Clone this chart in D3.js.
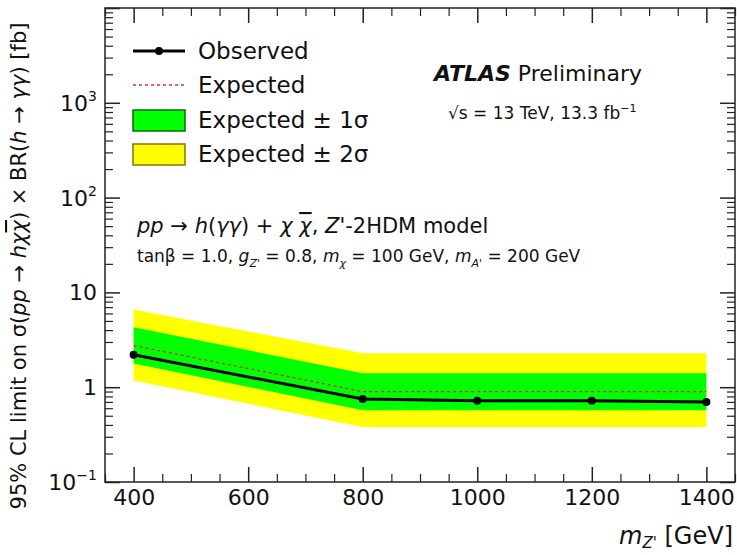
<!DOCTYPE html>
<html>
<head>
<meta charset="utf-8">
<script src="https://cdn.jsdelivr.net/npm/d3@7"></script>
<style>
  html, body { margin: 0; padding: 0; background: #fff; }
  svg { display: block; }
  text { font-family: "DejaVu Sans", Verdana, sans-serif; fill: #111; }
</style>
</head>
<body>
<svg id="chart" width="737" height="555"></svg>
<script>
// Z' mass points [GeV]
const massPoints = [400, 800, 1000, 1200, 1400];
// 95% CL upper limits on sigma x BR [fb]
const observed = [2.2, 0.75, 0.72, 0.72, 0.70];
const expected = [2.75, 0.90, 0.90, 0.90, 0.90];
const expPlus1 = [4.3, 1.40, 1.40, 1.40, 1.40];
const expMinus1 = [1.78, 0.57, 0.57, 0.57, 0.57];
const expPlus2 = [6.6, 2.28, 2.28, 2.28, 2.28];
const expMinus2 = [1.18, 0.38, 0.38, 0.38, 0.38];
// axis tick values
const xTicks = [400, 600, 800, 1000, 1200, 1400];
const yTicks = [0.1, 1, 10, 100, 1000];
const yTickLabels = ["10", "1", "10", "10", "10"];
const yTickExps = ["\u22121", "", "", "2", "3"];

const svg = d3.select("#chart");
const frame = { left: 105, right: 735, top: 8, bottom: 482 };

const x = d3.scaleLinear().domain([350, 1450]).range([frame.left, frame.right]);
const y = d3.scaleLog().domain([0.1, 10000]).range([frame.bottom, frame.top]);

const rows = massPoints.map((m, i) => ({
  m, obs: observed[i], exp: expected[i],
  p1: expPlus1[i], m1: expMinus1[i], p2: expPlus2[i], m2: expMinus2[i]
}));

// uncertainty bands
const band = (lo, hi) => d3.area().x(d => x(d.m)).y0(d => y(d[lo])).y1(d => y(d[hi]));
svg.append("path").datum(rows).attr("d", band("m2", "p2")).attr("fill", "#ffff00");
svg.append("path").datum(rows).attr("d", band("m1", "p1")).attr("fill", "#00ff00");

// expected limit
svg.append("path").datum(rows)
  .attr("d", d3.line().x(d => x(d.m)).y(d => y(d.exp)))
  .attr("fill", "none").attr("stroke", "#d03050").attr("stroke-width", 1.3)
  .attr("stroke-dasharray", "3,3");

// observed limit
svg.append("path").datum(rows)
  .attr("d", d3.line().x(d => x(d.m)).y(d => y(d.obs)))
  .attr("fill", "none").attr("stroke", "#000").attr("stroke-width", 3);
svg.selectAll("circle.obs").data(rows).enter().append("circle")
  .attr("class", "obs")
  .attr("cx", d => x(d.m)).attr("cy", d => y(d.obs)).attr("r", 4).attr("fill", "#000");

// frame
svg.append("rect")
  .attr("x", frame.left).attr("y", frame.top)
  .attr("width", frame.right - frame.left).attr("height", frame.bottom - frame.top)
  .attr("fill", "none").attr("stroke", "#222").attr("stroke-width", 1.5);

// x axis ticks (inward, mirrored on top)
const xMinor = d3.range(350, 1451, 50).filter(v => !xTicks.includes(v));
const bottomAxis = d3.axisBottom(x).tickValues(xTicks).tickSize(-15).tickFormat(d3.format("d"));
const gx = svg.append("g").attr("transform", `translate(0,${frame.bottom})`).call(bottomAxis);
gx.select(".domain").remove();
gx.selectAll(".tick line").attr("stroke", "#222").attr("stroke-width", 1.5);
gx.selectAll(".tick text").attr("y", 7).attr("font-size", 22).attr("fill", "#111")
  .style("font-family", "DejaVu Sans, Verdana, sans-serif");
const gxMinor = svg.append("g").attr("transform", `translate(0,${frame.bottom})`)
  .call(d3.axisBottom(x).tickValues(xMinor).tickSize(-8).tickFormat(""));
gxMinor.select(".domain").remove();
gxMinor.selectAll(".tick line").attr("stroke", "#222").attr("stroke-width", 1.2);

const gxTop = svg.append("g").attr("transform", `translate(0,${frame.top})`)
  .call(d3.axisTop(x).tickValues(xTicks).tickSize(-15).tickFormat(""));
gxTop.select(".domain").remove();
gxTop.selectAll(".tick line").attr("stroke", "#222").attr("stroke-width", 1.5);
const gxTopMinor = svg.append("g").attr("transform", `translate(0,${frame.top})`)
  .call(d3.axisTop(x).tickValues(xMinor).tickSize(-8).tickFormat(""));
gxTopMinor.select(".domain").remove();
gxTopMinor.selectAll(".tick line").attr("stroke", "#222").attr("stroke-width", 1.2);

// y axis ticks (inward, mirrored on right)
const yMinor = [];
[0.1, 1, 10, 100, 1000].forEach(dec => { for (let k = 2; k <= 9; k++) yMinor.push(dec * k); });
function yAxisTicks(axisFn, xpos) {
  const gMaj = svg.append("g").attr("transform", `translate(${xpos},0)`)
    .call(axisFn(y).tickValues(yTicks.concat([10000])).tickSize(-15).tickFormat(""));
  gMaj.select(".domain").remove();
  gMaj.selectAll(".tick line").attr("stroke", "#222").attr("stroke-width", 1.5);
  const gMin = svg.append("g").attr("transform", `translate(${xpos},0)`)
    .call(axisFn(y).tickValues(yMinor).tickSize(-8).tickFormat(""));
  gMin.select(".domain").remove();
  gMin.selectAll(".tick line").attr("stroke", "#222").attr("stroke-width", 1.2);
}
yAxisTicks(d3.axisLeft, frame.left);
yAxisTicks(d3.axisRight, frame.right);

// y tick labels with exponents
yTicks.forEach((v, i) => {
  const t = svg.append("text")
    .attr("x", frame.left - 8).attr("y", y(v) + 8)
    .attr("text-anchor", "end").attr("font-size", 22);
  t.append("tspan").text(yTickLabels[i]);
  if (yTickExps[i]) {
    t.append("tspan").attr("dy", -10).attr("font-size", 14).text(yTickExps[i]);
  }
});

// axis titles
const yTitle = svg.append("text")
  .attr("transform", `translate(26,266) rotate(-90)`)
  .attr("text-anchor", "middle").attr("font-size", 21);
yTitle.append("tspan").text("95% CL limit on \u03c3(");
yTitle.append("tspan").attr("font-style", "italic").text("pp");
yTitle.append("tspan").text(" \u2192 ");
yTitle.append("tspan").attr("font-style", "italic").text("h\u03c7");
yTitle.append("tspan").attr("font-style", "italic").style("text-decoration", "overline").text("\u03c7");
yTitle.append("tspan").text(") \u00d7 BR(");
yTitle.append("tspan").attr("font-style", "italic").text("h");
yTitle.append("tspan").text(" \u2192 ");
yTitle.append("tspan").attr("font-style", "italic").text("\u03b3\u03b3");
yTitle.append("tspan").text(") [fb]");

const xTitle = svg.append("text")
  .attr("x", frame.right - 2).attr("y", 544).attr("text-anchor", "end").attr("font-size", 24);
xTitle.append("tspan").attr("font-style", "italic").text("m");
xTitle.append("tspan").attr("font-style", "italic").attr("font-size", 15).attr("dy", 4).text("Z'");
xTitle.append("tspan").attr("dy", -4).text(" [GeV]");

// legend
const legX0 = 133, legX1 = 185, legText = 198;
const legRows = [51, 85, 120, 154];
svg.append("line").attr("x1", legX0).attr("x2", legX1).attr("y1", legRows[0]).attr("y2", legRows[0])
  .attr("stroke", "#000").attr("stroke-width", 3);
svg.append("circle").attr("cx", (legX0 + legX1) / 2).attr("cy", legRows[0]).attr("r", 4).attr("fill", "#000");
svg.append("line").attr("x1", legX0).attr("x2", legX1).attr("y1", legRows[1]).attr("y2", legRows[1])
  .attr("stroke", "#d03050").attr("stroke-width", 1.3).attr("stroke-dasharray", "3,3");
svg.append("rect").attr("x", legX0).attr("y", legRows[2] - 10).attr("width", legX1 - legX0).attr("height", 21)
  .attr("fill", "#00ff00").attr("stroke", "#0a6a0a").attr("stroke-width", 1.5);
svg.append("rect").attr("x", legX0).attr("y", legRows[3] - 10).attr("width", legX1 - legX0).attr("height", 21)
  .attr("fill", "#ffff00").attr("stroke", "#7a7a10").attr("stroke-width", 1.5);
const legLabels = ["Observed", "Expected", "Expected \u00b1 1\u03c3", "Expected \u00b1 2\u03c3"];
legLabels.forEach((s, i) => {
  svg.append("text").attr("x", legText).attr("y", legRows[i] + 8).attr("font-size", 23).text(s);
});

// experiment label
const atlas = svg.append("text").attr("x", 434).attr("y", 81).attr("font-size", 22);
atlas.append("tspan").attr("font-weight", "bold").attr("font-style", "italic").text("ATLAS");
atlas.append("tspan").text(" Preliminary");
const energy = svg.append("text").attr("x", 448).attr("y", 119).attr("font-size", 17);
energy.append("tspan").text("\u221as = 13 TeV, 13.3 fb");
energy.append("tspan").attr("dy", -7).attr("font-size", 11).text("\u22121");

// model description
const proc = svg.append("text").attr("x", 137).attr("y", 233).attr("font-size", 21);
proc.append("tspan").attr("font-style", "italic").text("pp");
proc.append("tspan").text(" \u2192 ");
proc.append("tspan").attr("font-style", "italic").text("h");
proc.append("tspan").text("(");
proc.append("tspan").attr("font-style", "italic").text("\u03b3\u03b3");
proc.append("tspan").text(") + ");
proc.append("tspan").attr("font-style", "italic").text("\u03c7 ");
proc.append("tspan").attr("font-style", "italic").style("text-decoration", "overline").text("\u03c7");
proc.append("tspan").text(", ");
proc.append("tspan").attr("font-style", "italic").text("Z'");
proc.append("tspan").text("-2HDM model");

const pars = svg.append("text").attr("x", 137).attr("y", 262).attr("font-size", 17);
pars.append("tspan").text("tan\u03b2 = 1.0, ");
pars.append("tspan").attr("font-style", "italic").text("g");
pars.append("tspan").attr("font-style", "italic").attr("font-size", 11).attr("dy", 5).text("Z'");
pars.append("tspan").attr("dy", -5).text(" = 0.8, ");
pars.append("tspan").attr("font-style", "italic").text("m");
pars.append("tspan").attr("font-style", "italic").attr("font-size", 11).attr("dy", 5).text("\u03c7");
pars.append("tspan").attr("dy", -5).text(" = 100 GeV, ");
pars.append("tspan").attr("font-style", "italic").text("m");
pars.append("tspan").attr("font-style", "italic").attr("font-size", 11).attr("dy", 5).text("A'");
pars.append("tspan").attr("dy", -5).text(" = 200 GeV");
</script>
</body>
</html>
